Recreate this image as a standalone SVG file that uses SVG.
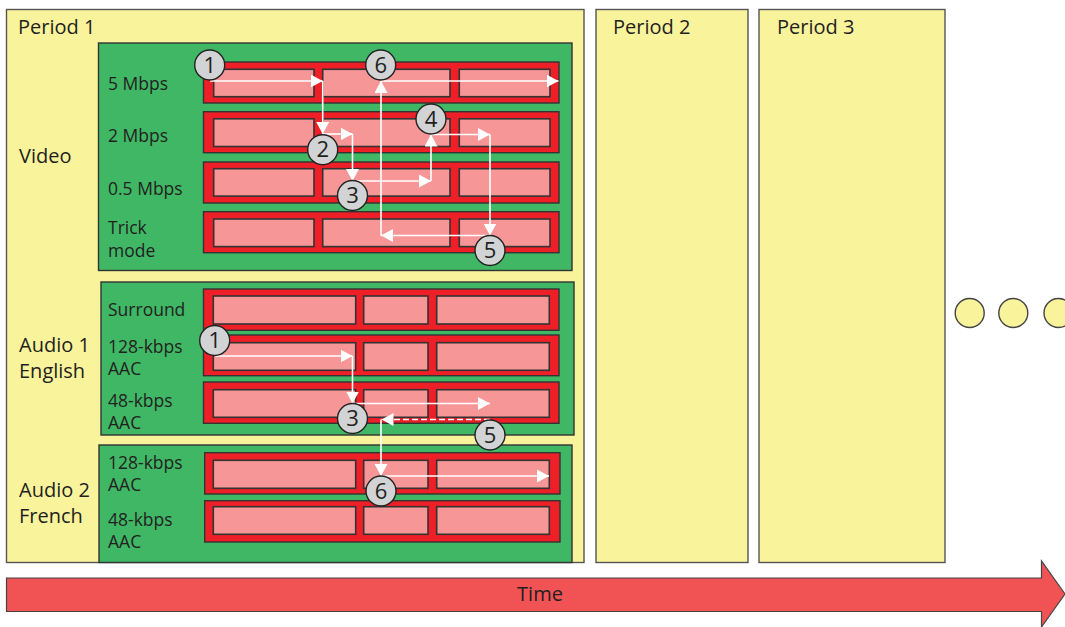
<svg xmlns="http://www.w3.org/2000/svg" width="1065" height="627" viewBox="0 0 1065 627">
<style>
text{font-family:"Open Sans","Noto Sans","Liberation Sans",sans-serif;fill:#231f20}
.p{fill:#f9f39c;stroke:#555;stroke-width:1.4}
.g{fill:#3fb765;stroke:#333;stroke-width:1.4}
.r{fill:#ee1f27;stroke:#333;stroke-width:1.4}
.s{fill:#f69697;stroke:#333;stroke-width:1.6}
.n{fill:#d1d3d4;stroke:#222;stroke-width:1.4}
.d{fill:#f9f39c;stroke:#444;stroke-width:1.4}
.l{font-size:20px}
.m{font-size:17.500px}
.c{font-size:22px;text-anchor:middle}
.w{fill:none;stroke:#fff;stroke-width:1.6}
</style>
<defs>
<marker id="a" markerUnits="userSpaceOnUse" markerWidth="14" markerHeight="14" refX="12" refY="6.500" orient="auto"><path d="M0 0L12 6.500L0 13Z" fill="#fff"/></marker>
</defs>
<g id="period1"><rect class="p" x="6.500" y="9.500" width="577.500" height="553"/><text class="l" x="18" y="34">Period 1</text></g>
<g id="period2"><rect class="p" x="596" y="9.500" width="152" height="553"/><text class="l" x="613" y="34">Period 2</text></g>
<g id="period3"><rect class="p" x="759" y="9.500" width="186" height="553"/><text class="l" x="777" y="34">Period 3</text></g>
<g id="video-group"><text class="l" x="19" y="163">Video</text><rect class="g" x="98.500" y="43" width="473.500" height="227.500"/>
<text class="m" x="108" y="90">5 Mbps</text><text class="m" x="108" y="142">2 Mbps</text><text class="m" x="108" y="195">0.5 Mbps</text><text class="m" x="108" y="234">Trick</text><text class="m" x="108" y="257">mode</text></g>
<g id="audio1-group"><text class="l" x="19" y="352">Audio 1</text><text class="l" x="19" y="378">English</text><rect class="g" x="101" y="282" width="473" height="153"/>
<text class="m" x="108" y="316">Surround</text><text class="m" x="108" y="353">128-kbps</text><text class="m" x="108" y="375">AAC</text><text class="m" x="108" y="407">48-kbps</text><text class="m" x="108" y="429">AAC</text></g>
<g id="audio2-group"><text class="l" x="19" y="497">Audio 2</text><text class="l" x="19" y="523">French</text><rect class="g" x="99" y="445" width="473" height="117.500"/>
<text class="m" x="108" y="469">128-kbps</text><text class="m" x="108" y="491">AAC</text><text class="m" x="108" y="526">48-kbps</text><text class="m" x="108" y="548">AAC</text></g>
<g id="video-rows">
<rect class="r" x="203.500" y="62" width="355.500" height="41"/><rect class="s" x="213.700" y="69.300" width="100.300" height="27.400"/><rect class="s" x="322.700" y="69.300" width="127.300" height="27.400"/><rect class="s" x="459.300" y="69.300" width="90.700" height="27.400"/>
<rect class="r" x="203.500" y="111.700" width="355.500" height="41"/><rect class="s" x="213.700" y="118.800" width="100.300" height="27.700"/><rect class="s" x="322.700" y="118.800" width="127.300" height="27.700"/><rect class="s" x="459.300" y="118.800" width="90.700" height="27.700"/>
<rect class="r" x="203.500" y="162" width="355.500" height="41"/><rect class="s" x="213.700" y="168.700" width="100.300" height="27.400"/><rect class="s" x="322.700" y="168.700" width="127.300" height="27.400"/><rect class="s" x="459.300" y="168.700" width="90.700" height="27.400"/>
<rect class="r" x="203.500" y="211.700" width="355.500" height="41"/><rect class="s" x="213.700" y="219" width="100.300" height="27.600"/><rect class="s" x="322.700" y="219" width="127.300" height="27.600"/><rect class="s" x="459.300" y="219" width="90.700" height="27.600"/>
</g>
<g id="audio1-rows">
<rect class="r" x="203.500" y="289" width="355.500" height="41.300"/><rect class="s" x="213.300" y="296" width="142.400" height="28"/><rect class="s" x="363.700" y="296" width="64.300" height="28"/><rect class="s" x="436.700" y="296" width="112.600" height="28"/>
<rect class="r" x="203.500" y="335" width="355.500" height="40.700"/><rect class="s" x="213.300" y="342.700" width="142.400" height="27.600"/><rect class="s" x="363.700" y="342.700" width="64.300" height="27.600"/><rect class="s" x="436.700" y="342.700" width="112.600" height="27.600"/>
<rect class="r" x="203.500" y="382" width="355.500" height="41.300"/><rect class="s" x="213.300" y="389.700" width="142.400" height="27.600"/><rect class="s" x="363.700" y="389.700" width="64.300" height="27.600"/><rect class="s" x="436.700" y="389.700" width="112.600" height="27.600"/>
</g>
<g id="audio2-rows">
<rect class="r" x="204.700" y="452.700" width="355.300" height="41.300"/><rect class="s" x="213.300" y="460.300" width="142.400" height="28"/><rect class="s" x="363.700" y="460.300" width="64.300" height="28"/><rect class="s" x="436.700" y="460.300" width="112.600" height="28"/>
<rect class="r" x="204.700" y="500.700" width="355.300" height="41.300"/><rect class="s" x="213.300" y="506.700" width="142.400" height="27.600"/><rect class="s" x="363.700" y="506.700" width="64.300" height="27.600"/><rect class="s" x="436.700" y="506.700" width="112.600" height="27.600"/>
</g>
<g id="connectors">
<path class="w" marker-end="url(#a)" d="M210 81H322.700"/>
<path class="w" marker-end="url(#a)" d="M322.700 81V134"/>
<path class="w" marker-end="url(#a)" d="M322.700 134H352.500"/>
<path class="w" marker-end="url(#a)" d="M352.500 134V181"/>
<path class="w" marker-end="url(#a)" d="M352.500 181H431"/>
<path class="w" marker-end="url(#a)" d="M431 181V134.500"/>
<path class="w" marker-end="url(#a)" d="M431 134.500H490"/>
<path class="w" marker-end="url(#a)" d="M490 134.500V235.500"/>
<path class="w" marker-end="url(#a)" d="M490 235.500H381"/>
<path class="w" marker-end="url(#a)" d="M381 235.500V81"/>
<path class="w" marker-end="url(#a)" d="M381 81H558.500"/>
<path class="w" marker-end="url(#a)" d="M215 356H352.500"/>
<path class="w" marker-end="url(#a)" d="M352.500 356V403.500"/>
<path class="w" marker-end="url(#a)" d="M352.500 403.500H490"/>
<path class="w" stroke-dasharray="6 3" marker-end="url(#a)" d="M490 419.500H381.500"/>
<path class="w" marker-end="url(#a)" d="M381 419.500V476"/>
<path class="w" marker-end="url(#a)" d="M381 476H549"/>
</g>
<g id="step-v1"><circle class="n" cx="209.700" cy="65" r="15"/><text class="c" x="209.700" y="72.500">1</text></g>
<g id="step-v6"><circle class="n" cx="380.700" cy="65" r="15"/><text class="c" x="380.700" y="72.500">6</text></g>
<g id="step-v2"><circle class="n" cx="322.700" cy="149.700" r="15"/><text class="c" x="322.700" y="157.200">2</text></g>
<g id="step-v4"><circle class="n" cx="431" cy="119" r="15"/><text class="c" x="431" y="126.500">4</text></g>
<g id="step-v3"><circle class="n" cx="352.500" cy="195.500" r="15"/><text class="c" x="352.500" y="203">3</text></g>
<g id="step-v5"><circle class="n" cx="490" cy="250.500" r="15"/><text class="c" x="490" y="258">5</text></g>
<g id="step-a1"><circle class="n" cx="214.700" cy="340.500" r="15"/><text class="c" x="214.700" y="348">1</text></g>
<g id="step-a3"><circle class="n" cx="352.500" cy="418.500" r="15"/><text class="c" x="352.500" y="426">3</text></g>
<g id="step-a5"><circle class="n" cx="490" cy="435" r="15"/><text class="c" x="490" y="442.500">5</text></g>
<g id="step-a6"><circle class="n" cx="381" cy="491" r="15"/><text class="c" x="381" y="498.500">6</text></g>
<g id="dots"><circle class="d" cx="969.700" cy="313" r="14.500"/><circle class="d" cx="1013.300" cy="313" r="14.500"/><circle class="d" cx="1058.500" cy="313" r="14.500"/></g>
<g id="time"><path d="M6.500 578H1041.500V561L1065 594L1041.500 627V611.500H6.500Z" fill="#f15355" stroke="#444" stroke-width="1.200"/><text x="540" y="600.500" font-size="20" text-anchor="middle">Time</text></g>
</svg>
